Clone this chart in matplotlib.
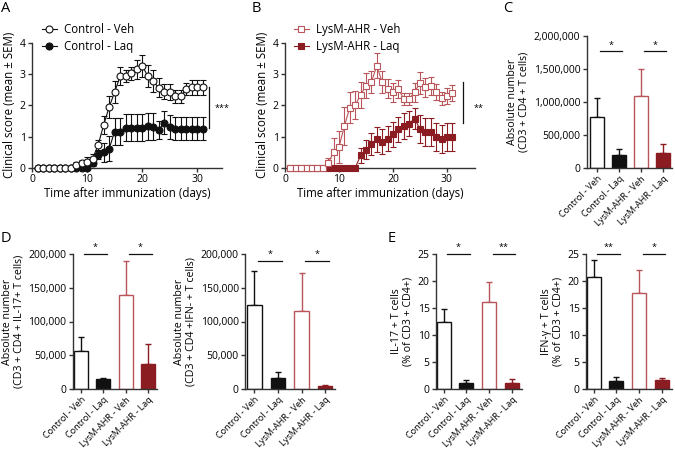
import matplotlib
matplotlib.use("Agg")
import matplotlib.pyplot as plt
import numpy as np
from matplotlib.ticker import FuncFormatter

plt.rcParams.update({
    "font.family": ["Open Sans", "DejaVu Sans"],
    "font.size": 7.5,
    "axes.linewidth": 1.0,
    "xtick.major.width": 1.0,
    "ytick.major.width": 1.0,
    "xtick.major.size": 3,
    "ytick.major.size": 3,
    "xtick.labelsize": 7.5,
    "ytick.labelsize": 7.5,
})

# ---- data: clinical scores (A, B) ----
days = list(range(1, 32))

ctrl_veh = [0, 0, 0, 0, 0, 0, 0, 0.1, 0.15, 0.2, 0.3, 0.73, 1.37, 1.94, 2.42, 2.93,
            2.93, 3.02, 3.15, 3.27, 2.94, 2.77, 2.56, 2.44, 2.42, 2.29, 2.29, 2.52,
            2.57, 2.57, 2.57]
ctrl_veh_sem = [0, 0, 0, 0, 0, 0, 0, 0.1, 0.12, 0.15, 0.15, 0.15, 0.28, 0.35, 0.35,
                0.28, 0.2, 0.2, 0.3, 0.35, 0.35, 0.35, 0.3, 0.25, 0.25, 0.2, 0.2,
                0.2, 0.25, 0.25, 0.25]
ctrl_laq = [0, 0, 0, 0, 0, 0, 0, 0, 0, 0, 0.15, 0.42, 0.5, 0.61, 1.16, 1.16, 1.28,
            1.28, 1.28, 1.28, 1.33, 1.32, 1.21, 1.45, 1.3, 1.26, 1.26, 1.26, 1.26,
            1.26, 1.26]
ctrl_laq_sem = [0, 0, 0, 0, 0, 0, 0, 0, 0, 0, 0.1, 0.12, 0.3, 0.4, 0.43, 0.43, 0.43,
                0.43, 0.43, 0.43, 0.43, 0.43, 0.3, 0.37, 0.38, 0.38, 0.38, 0.38,
                0.38, 0.38, 0.38]

lysm_veh = [0, 0, 0, 0, 0, 0, 0, 0.16, 0.5, 0.67, 1.34, 1.93, 2.0, 2.33, 2.63, 2.74,
            3.26, 2.74, 2.53, 2.42, 2.52, 2.21, 2.21, 2.42, 2.72, 2.57, 2.62, 2.42,
            2.22, 2.3, 2.4]
lysm_veh_sem = [0, 0, 0, 0, 0, 0, 0, 0.15, 0.45, 0.5, 0.6, 0.5, 0.45, 0.4, 0.4, 0.35,
                0.4, 0.35, 0.3, 0.3, 0.3, 0.2, 0.2, 0.3, 0.35, 0.3, 0.3, 0.25, 0.2,
                0.25, 0.25]
lysm_laq = [0, 0, 0, 0, 0, 0, 0, 0, 0, 0, 0, 0, 0, 0.4, 0.58, 0.76, 0.91, 0.84, 0.93,
            1.07, 1.24, 1.34, 1.41, 1.58, 1.24, 1.16, 1.16, 1.0, 0.93, 1.0, 1.0]
lysm_laq_sem = [0, 0, 0, 0, 0, 0, 0, 0, 0, 0, 0, 0, 0, 0.25, 0.3, 0.35, 0.4, 0.4,
                0.4, 0.4, 0.4, 0.4, 0.4, 0.35, 0.45, 0.45, 0.45, 0.45, 0.45, 0.45,
                0.45]

# ---- data: bar panels (C, D, E) ----
groups = ["Control - Veh", "Control - Laq", "LysM-AHR - Veh", "LysM-AHR - Laq"]

cd4_mean = [780000, 200000, 1090000, 220000]
cd4_sem = [280000, 95000, 410000, 140000]

il17_abs_mean = [57000, 15000, 140000, 37000]
il17_abs_sem = [20000, 2000, 50000, 29000]

ifng_abs_mean = [125000, 16000, 116000, 5000]
ifng_abs_sem = [50000, 9000, 56000, 1500]

il17_pct_mean = [12.4, 1.1, 16.2, 1.1]
il17_pct_sem = [2.4, 0.5, 3.6, 0.8]

ifng_pct_mean = [20.8, 1.4, 17.7, 1.7]
ifng_pct_sem = [3.0, 0.8, 4.3, 0.4]

BLACK = "#111111"
RED_LIGHT = "#B9565B"
RED_DARK = "#8A1C22"

bar_face = ["white", BLACK, "white", RED_DARK]
bar_edge = [BLACK, BLACK, RED_LIGHT, RED_DARK]

W, H = 675, 449
fig = plt.figure(figsize=(W / 100, H / 100), dpi=100)


def add_axes_px(left, right, top, bottom):
    return fig.add_axes([left / W, 1 - bottom / H, (right - left) / W, (bottom - top) / H])


def style_axes(ax):
    for s in ["top", "right"]:
        ax.spines[s].set_visible(False)
    ax.spines["left"].set_color("#333333")
    ax.spines["bottom"].set_color("#333333")
    ax.tick_params(colors="#333333", labelcolor="black", pad=1.5)


def line_panel(ax, series, xmax):
    for y, err, fc, ec, mk in series:
        ax.errorbar(days, y, yerr=err, color=ec, marker=mk, markersize=5,
                    markerfacecolor=fc, markeredgecolor=ec, markeredgewidth=0.8,
                    linewidth=0.8, elinewidth=0.8, capsize=2.5, capthick=0.8,
                    clip_on=False, zorder=3)
    ax.set_xlim(0, xmax)
    ax.set_ylim(0, 4)
    ax.set_xticks([0, 10, 20, 30])
    ax.set_yticks([0, 1, 2, 3, 4])
    ax.set_xlabel("Time after immunization (days)", fontsize=8.3, labelpad=1)
    ax.set_ylabel("Clinical score (mean ± SEM)", fontsize=8.3, labelpad=3)
    style_axes(ax)


# ---- Panel A ----
axA = add_axes_px(32, 222, 42.7, 168)
line_panel(axA, [(ctrl_laq, ctrl_laq_sem, BLACK, BLACK, "o"),
                 (ctrl_veh, ctrl_veh_sem, "white", BLACK, "o")], 34.5)
axA.plot([32.2, 32.2], [1.27, 2.57], color=BLACK, lw=0.9, clip_on=False)
axA.text(34.6, 1.9, "***", fontsize=6.5, ha="center", va="center", clip_on=False)

# ---- Panel B ----
axB = add_axes_px(285, 475, 42.7, 168)
line_panel(axB, [(lysm_laq, lysm_laq_sem, RED_DARK, RED_DARK, "s"),
                 (lysm_veh, lysm_veh_sem, "white", RED_LIGHT, "s")], 35.2)
axB.plot([33.0, 33.0], [1.43, 2.74], color=BLACK, lw=0.9, clip_on=False)
axB.text(35.9, 1.9, "**", fontsize=6.5, ha="center", va="center", clip_on=False)

hA = [axA.plot([], [], color=BLACK, marker="o", ms=5, mfc="white", mec=BLACK, mew=0.8, lw=0.8)[0],
      axA.plot([], [], color=BLACK, marker="o", ms=5, mfc=BLACK, mec=BLACK, mew=0.8, lw=0.8)[0]]
fig.legend(hA, ["Control - Veh", "Control - Laq"], loc="upper left",
           bbox_to_anchor=(36 / W, 1 - 17 / H), frameon=False, fontsize=8.3,
           borderpad=0, handlelength=1.3, handletextpad=0.6, labelspacing=0.35)
hB = [axB.plot([], [], color=RED_LIGHT, marker="s", ms=5, mfc="white", mec=RED_LIGHT, mew=0.8, lw=0.8)[0],
      axB.plot([], [], color=RED_DARK, marker="s", ms=5, mfc=RED_DARK, mec=RED_DARK, mew=0.8, lw=0.8)[0]]
fig.legend(hB, ["LysM-AHR - Veh", "LysM-AHR - Laq"], loc="upper left",
           bbox_to_anchor=(288 / W, 1 - 17 / H), frameon=False, fontsize=8.3,
           borderpad=0, handlelength=1.3, handletextpad=0.6, labelspacing=0.35)


def bar_panel(ax, means, sems, ymax, yticks, ylabel, sig_y, sig_labels, fmt=None, xlim=(-0.4, 3.42)):
    x = np.arange(len(groups))
    ax.bar(x, means, width=0.62, color=bar_face, edgecolor=bar_edge, linewidth=1.0, zorder=2)
    for i in range(len(groups)):
        ax.errorbar(x[i], means[i], yerr=[[0], [sems[i]]], fmt="none",
                    ecolor=bar_edge[i], elinewidth=1.0, capsize=2.5, capthick=1.0, zorder=1)
    for (i0, i1), lab in zip([(0, 1), (2, 3)], sig_labels):
        ax.plot([i0 + 0.15, i1 + 0.15], [sig_y, sig_y], color=BLACK, lw=0.9, clip_on=False)
        ax.text((i0 + i1) / 2 + 0.15, sig_y + ymax * 0.012, lab, fontsize=6.5,
                ha="center", va="bottom", clip_on=False)
    ax.set_xlim(*xlim)
    ax.set_ylim(0, ymax)
    ax.set_yticks(yticks)
    if fmt is not None:
        ax.yaxis.set_major_formatter(FuncFormatter(fmt))
    ax.set_xticks(x)
    ax.set_xticklabels(groups, rotation=45, ha="right", rotation_mode="anchor", fontsize=6.6)
    ax.tick_params(axis="x", pad=1)
    ax.set_ylabel(ylabel, fontsize=7.7, labelpad=3, linespacing=1.05)
    style_axes(ax)


comma = lambda v, p: f"{int(v):,}"

# ---- Panel C ----
axC = add_axes_px(586.5, 672, 36, 168)
bar_panel(axC, cd4_mean, cd4_sem, 2000000, [0, 500000, 1000000, 1500000, 2000000],
          "Absolute number\n(CD3 + CD4 + T cells)", 1770000, ["*", "*"], comma,
          xlim=(-0.48, 3.42))

# ---- Panel D ----
axD1 = add_axes_px(72.7, 157, 254, 389)
bar_panel(axD1, il17_abs_mean, il17_abs_sem, 200000, [0, 50000, 100000, 150000, 200000],
          "Absolute number\n(CD3 + CD4 + IL-17+ T cells)", 200000, ["*", "*"], comma,
          xlim=(-0.36, 3.38))
axD2 = add_axes_px(245, 335, 254, 389)
bar_panel(axD2, ifng_abs_mean, ifng_abs_sem, 200000, [0, 50000, 100000, 150000, 200000],
          "Absolute number\n(CD3 + CD4 +IFN- + T cells)", 190000, ["*", "*"], comma)

# ---- Panel E ----
axE1 = add_axes_px(436, 522, 254, 389)
bar_panel(axE1, il17_pct_mean, il17_pct_sem, 25, [0, 5, 10, 15, 20, 25],
          "IL-17 + T cells\n(% of CD3 + CD4+)", 25, ["*", "**"], xlim=(-0.34, 3.45))
axE2 = add_axes_px(586, 672, 254, 389)
bar_panel(axE2, ifng_pct_mean, ifng_pct_sem, 25, [0, 5, 10, 15, 20, 25],
          "IFN-γ + T cells\n(% of CD3 + CD4+)", 25, ["**", "*"], xlim=(-0.34, 3.45))

# panel letters
for lab, (px, py) in {"A": (6, 8), "B": (256, 8), "C": (508, 8),
                      "D": (6, 238), "E": (392, 239)}.items():
    fig.text(px / W, 1 - py / H, lab, fontsize=10.5, ha="center", va="center")

fig.savefig("out.png", dpi=100)
